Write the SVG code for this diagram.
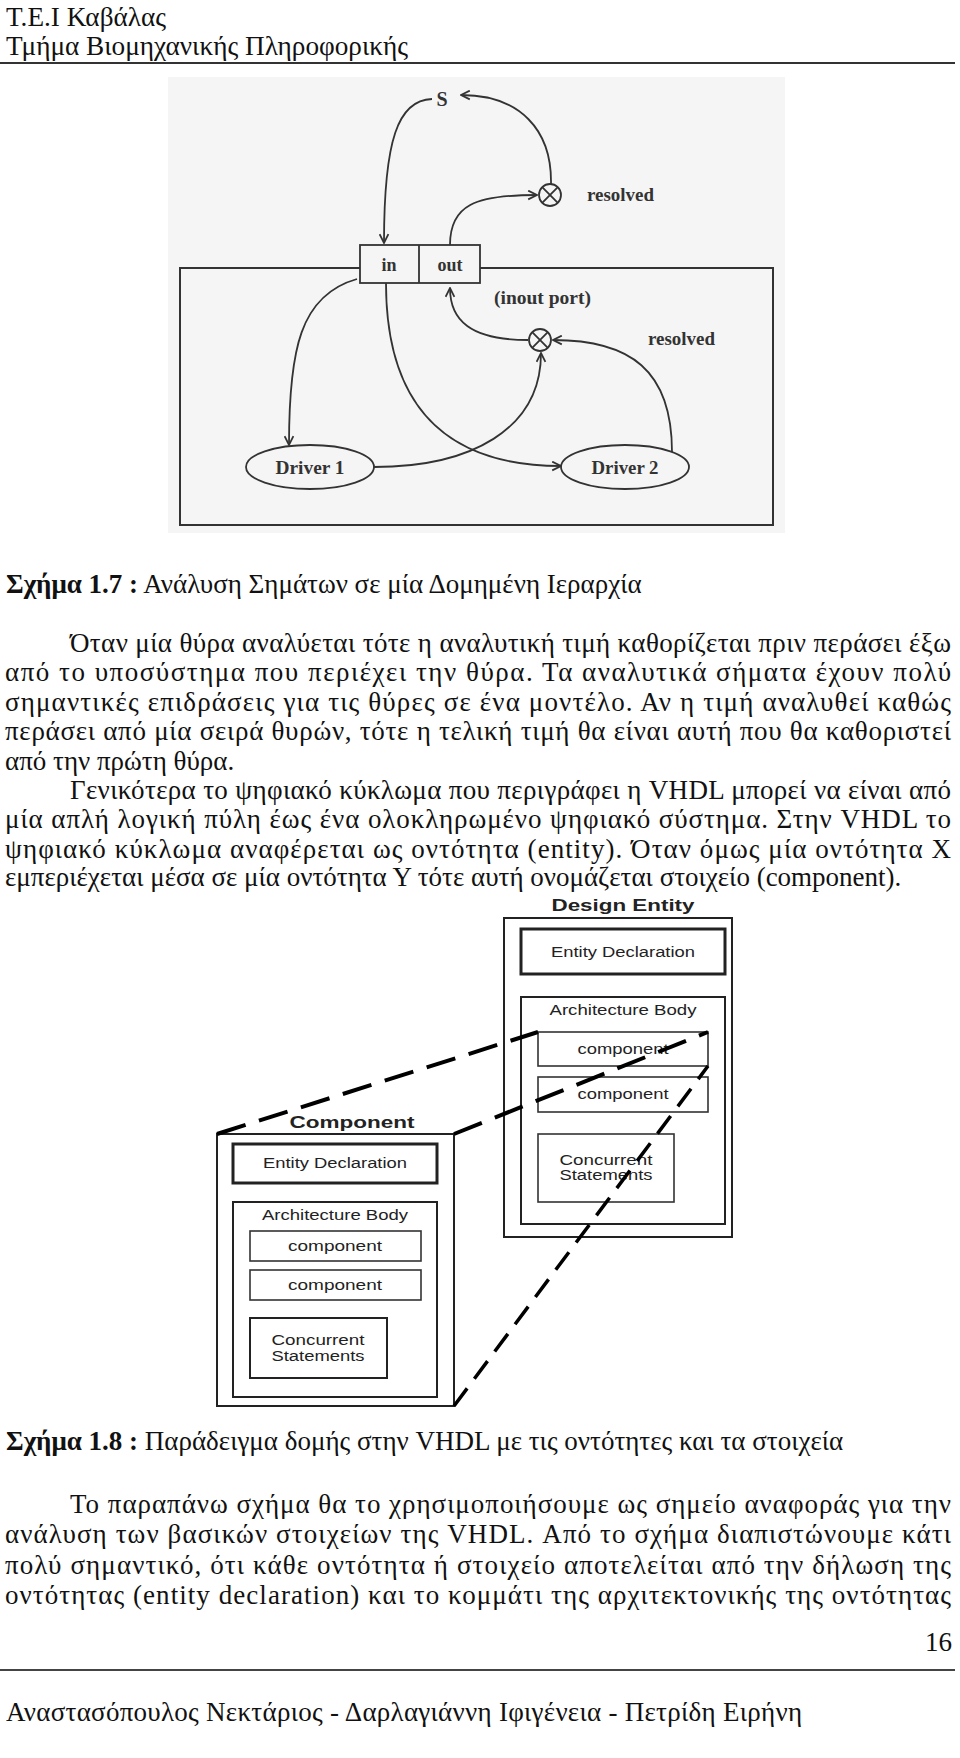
<svg xmlns="http://www.w3.org/2000/svg" width="960" height="1758" viewBox="0 0 960 1758">
<defs>
<marker id="ah" viewBox="0 0 10 10" refX="9" refY="5" markerWidth="11" markerHeight="11" markerUnits="userSpaceOnUse" orient="auto">
<path d="M1,1 L9,5 L1,9" fill="none" stroke="#333" stroke-width="1.6"/>
</marker>
</defs>
<style>
.body{font-family:"Liberation Serif","Times New Roman",serif;font-size:27px;fill:#111}
.b{font-weight:bold}
.f7{font-family:"Liberation Serif","Times New Roman",serif;font-weight:bold;fill:#333}
.ln{fill:none;stroke:#333;stroke-width:1.8}
.frame{fill:none;stroke:#333;stroke-width:2}
.port{fill:#f5f5f5;stroke:#333;stroke-width:1.8}
.bx{fill:#fff;stroke:#222;stroke-width:2}
.bx3{fill:#fff;stroke:#222;stroke-width:3}
.bx1{fill:#fff;stroke:#333;stroke-width:1.6}
.sans{font-family:"Liberation Sans",Arial,sans-serif;fill:#222;font-size:15.5px}
.sansb{font-family:"Liberation Sans",Arial,sans-serif;fill:#222;font-size:17px;font-weight:bold}
.dash{fill:none;stroke:#000;stroke-width:4;stroke-dasharray:30 14}
.dash3{fill:none;stroke:#000;stroke-width:3.5;stroke-dasharray:22 12}
</style>
<rect width="960" height="1758" fill="#fff"/>

<g id="header">
<text class="body" x="6" y="26" font-size="26" textLength="160" lengthAdjust="spacingAndGlyphs">T.E.I Καβάλας</text>
<text class="body" x="6" y="55" font-size="26" textLength="402" lengthAdjust="spacingAndGlyphs">Τμήμα Βιομηχανικής Πληροφορικής</text>
<line x1="0" y1="63" x2="955" y2="63" stroke="#333" stroke-width="2"/>
</g>

<g id="fig17">
<rect x="168" y="77" width="617" height="456" fill="#f5f5f5"/>
<rect class="frame" x="180" y="268" width="593" height="257"/>
<g id="connectors17">
<path class="ln" d="M432,99 C398,100 384,140 384,243" marker-end="url(#ah)"/>
<path class="ln" d="M551,184 C552,130 520,95 461,95" marker-end="url(#ah)"/>
<path class="ln" d="M450,245 C450,205 475,195 537,195" marker-end="url(#ah)"/>
<path class="ln" d="M528,340 C470,340 450,320 450,288" marker-end="url(#ah)"/>
<path class="ln" d="M672,452 C672,370 630,340 553,340" marker-end="url(#ah)"/>
<path class="ln" d="M374,467 C470,467 541,430 541,353" marker-end="url(#ah)"/>
<path class="ln" d="M357,279 C300,295 289,350 289,445" marker-end="url(#ah)"/>
<path class="ln" d="M386,283 C386,420 460,466 561,466" marker-end="url(#ah)"/>
</g>
<g id="node-S"><text class="f7" x="442" y="106" font-size="20" text-anchor="middle">S</text></g>
<g id="node-port">
<rect class="port" x="360" y="245" width="120" height="38"/>
<line class="ln" x1="419" y1="245" x2="419" y2="283"/>
<text class="f7" x="389" y="271" font-size="18" text-anchor="middle">in</text>
<text class="f7" x="450" y="271" font-size="18" text-anchor="middle">out</text>
</g>
<text class="f7" x="494" y="304" font-size="18" textLength="97" lengthAdjust="spacingAndGlyphs">(inout port)</text>
<g id="node-res1">
<circle cx="550" cy="195" r="11" fill="#f5f5f5" stroke="#333" stroke-width="1.8"/>
<path class="ln" d="M542.2,187.2 L557.8,202.8 M557.8,187.2 L542.2,202.8"/>
<text class="f7" x="587" y="201" font-size="18" textLength="67" lengthAdjust="spacingAndGlyphs">resolved</text>
</g>
<g id="node-res2">
<circle cx="540" cy="340" r="11" fill="#f5f5f5" stroke="#333" stroke-width="1.8"/>
<path class="ln" d="M532.2,332.2 L547.8,347.8 M547.8,332.2 L532.2,347.8"/>
<text class="f7" x="648" y="345" font-size="18" textLength="67" lengthAdjust="spacingAndGlyphs">resolved</text>
</g>
<g id="node-driver1">
<ellipse cx="310" cy="467" rx="64" ry="22" fill="#f5f5f5" stroke="#333" stroke-width="1.8"/>
<text class="f7" x="310" y="474" font-size="19" text-anchor="middle" textLength="69" lengthAdjust="spacingAndGlyphs">Driver 1</text>
</g>
<g id="node-driver2">
<ellipse cx="625" cy="467" rx="64" ry="22" fill="#f5f5f5" stroke="#333" stroke-width="1.8"/>
<text class="f7" x="625" y="474" font-size="19" text-anchor="middle" textLength="67" lengthAdjust="spacingAndGlyphs">Driver 2</text>
</g>
</g>

<g id="caption17">
<text class="body" x="6" y="593"><tspan class="b">Σχήμα 1.7 :</tspan> Ανάλυση Σημάτων σε μία Δομημένη Ιεραρχία</text>
</g>

<g id="para1">
<text class="body" x="70" y="652" textLength="881" lengthAdjust="spacing">Όταν μία θύρα αναλύεται τότε η αναλυτική τιμή καθορίζεται πριν περάσει έξω</text>
<text class="body" x="5" y="681" textLength="946" lengthAdjust="spacing">από το υποσύστημα που περιέχει την θύρα. Τα αναλυτικά σήματα έχουν πολύ</text>
<text class="body" x="5" y="711" textLength="946" lengthAdjust="spacing">σημαντικές επιδράσεις για τις θύρες σε ένα μοντέλο. Αν η τιμή αναλυθεί καθώς</text>
<text class="body" x="5" y="740" textLength="946" lengthAdjust="spacing">περάσει από μία σειρά θυρών, τότε η τελική τιμή θα είναι αυτή που θα καθοριστεί</text>
<text class="body" x="5" y="770">από την πρώτη θύρα.</text>
</g>
<g id="para2">
<text class="body" x="70" y="799" textLength="881" lengthAdjust="spacing">Γενικότερα το ψηφιακό κύκλωμα που περιγράφει η VHDL μπορεί να είναι από</text>
<text class="body" x="5" y="828" textLength="946" lengthAdjust="spacing">μία απλή λογική πύλη έως ένα ολοκληρωμένο ψηφιακό σύστημα. Στην VHDL το</text>
<text class="body" x="5" y="858" textLength="946" lengthAdjust="spacing">ψηφιακό κύκλωμα αναφέρεται ως οντότητα (entity). Όταν όμως μία οντότητα Χ</text>
<text class="body" x="5" y="886">εμπεριέχεται μέσα σε μία οντότητα Υ τότε αυτή ονομάζεται στοιχείο (component).</text>
</g>

<g id="fig18">
<g id="node-design-entity">
<text class="sansb" x="623" y="911" text-anchor="middle" textLength="143" lengthAdjust="spacingAndGlyphs">Design Entity</text>
<rect class="bx" x="504" y="918" width="228" height="319"/>
<rect class="bx3" x="521" y="929" width="204" height="45"/>
<text class="sans" x="623" y="957" text-anchor="middle" textLength="144" lengthAdjust="spacingAndGlyphs">Entity Declaration</text>
<rect class="bx" x="521" y="997" width="204" height="227"/>
<text class="sans" x="623" y="1015" text-anchor="middle" textLength="147" lengthAdjust="spacingAndGlyphs">Architecture Body</text>
<rect class="bx1" x="538" y="1032" width="170" height="34"/>
<text class="sans" x="623" y="1054" text-anchor="middle" textLength="91" lengthAdjust="spacingAndGlyphs">component</text>
<rect class="bx1" x="538" y="1077" width="170" height="35"/>
<text class="sans" x="623" y="1099" text-anchor="middle" textLength="91" lengthAdjust="spacingAndGlyphs">component</text>
<rect class="bx1" x="538" y="1134" width="136" height="68"/>
<text class="sans" x="606" y="1165" text-anchor="middle" textLength="93" lengthAdjust="spacingAndGlyphs">Concurrent</text>
<text class="sans" x="606" y="1180" text-anchor="middle" textLength="93" lengthAdjust="spacingAndGlyphs">Statements</text>
</g>
<g id="node-component">
<text class="sansb" x="352" y="1128" text-anchor="middle" textLength="125" lengthAdjust="spacingAndGlyphs">Component</text>
<rect class="bx" x="217" y="1134" width="237" height="272"/>
<rect class="bx3" x="233" y="1144" width="204" height="39"/>
<text class="sans" x="335" y="1168" text-anchor="middle" textLength="144" lengthAdjust="spacingAndGlyphs">Entity Declaration</text>
<rect class="bx" x="233" y="1202" width="204" height="195"/>
<text class="sans" x="335" y="1220" text-anchor="middle" textLength="146" lengthAdjust="spacingAndGlyphs">Architecture Body</text>
<rect class="bx1" x="250" y="1231" width="171" height="30"/>
<text class="sans" x="335" y="1251" text-anchor="middle" textLength="94" lengthAdjust="spacingAndGlyphs">component</text>
<rect class="bx1" x="250" y="1270" width="171" height="30"/>
<text class="sans" x="335" y="1290" text-anchor="middle" textLength="94" lengthAdjust="spacingAndGlyphs">component</text>
<rect class="bx" x="250" y="1318" width="137" height="60"/>
<text class="sans" x="318" y="1345" text-anchor="middle" textLength="93" lengthAdjust="spacingAndGlyphs">Concurrent</text>
<text class="sans" x="318" y="1361" text-anchor="middle" textLength="93" lengthAdjust="spacingAndGlyphs">Statements</text>
</g>
<g id="connectors18">
<line class="dash" x1="217" y1="1134" x2="538" y2="1032"/>
<line class="dash" x1="454" y1="1134" x2="708" y2="1032"/>
<line class="dash3" x1="454" y1="1406" x2="708" y2="1066"/>
</g>
</g>

<g id="caption18">
<text class="body" x="6" y="1450"><tspan class="b">Σχήμα 1.8 :</tspan> Παράδειγμα δομής στην VHDL με τις οντότητες και τα στοιχεία</text>
</g>

<g id="para3">
<text class="body" x="70" y="1513" textLength="881" lengthAdjust="spacing">Το παραπάνω σχήμα θα το χρησιμοποιήσουμε ως σημείο αναφοράς για την</text>
<text class="body" x="5" y="1543" textLength="946" lengthAdjust="spacing">ανάλυση των βασικών στοιχείων της VHDL. Από το σχήμα διαπιστώνουμε κάτι</text>
<text class="body" x="5" y="1574" textLength="946" lengthAdjust="spacing">πολύ σημαντικό, ότι κάθε οντότητα ή στοιχείο αποτελείται από την δήλωση της</text>
<text class="body" x="5" y="1604" textLength="946" lengthAdjust="spacing">οντότητας (entity declaration) και το κομμάτι της αρχιτεκτονικής της οντότητας</text>
</g>

<g id="footer">
<text class="body" x="952" y="1651" text-anchor="end">16</text>
<line x1="0" y1="1670" x2="955" y2="1670" stroke="#444" stroke-width="2"/>
<text class="body" x="6" y="1721" textLength="796" lengthAdjust="spacing">Αναστασόπουλος Νεκτάριος - Δαρλαγιάννη Ιφιγένεια - Πετρίδη Ειρήνη</text>
</g>
</svg>
